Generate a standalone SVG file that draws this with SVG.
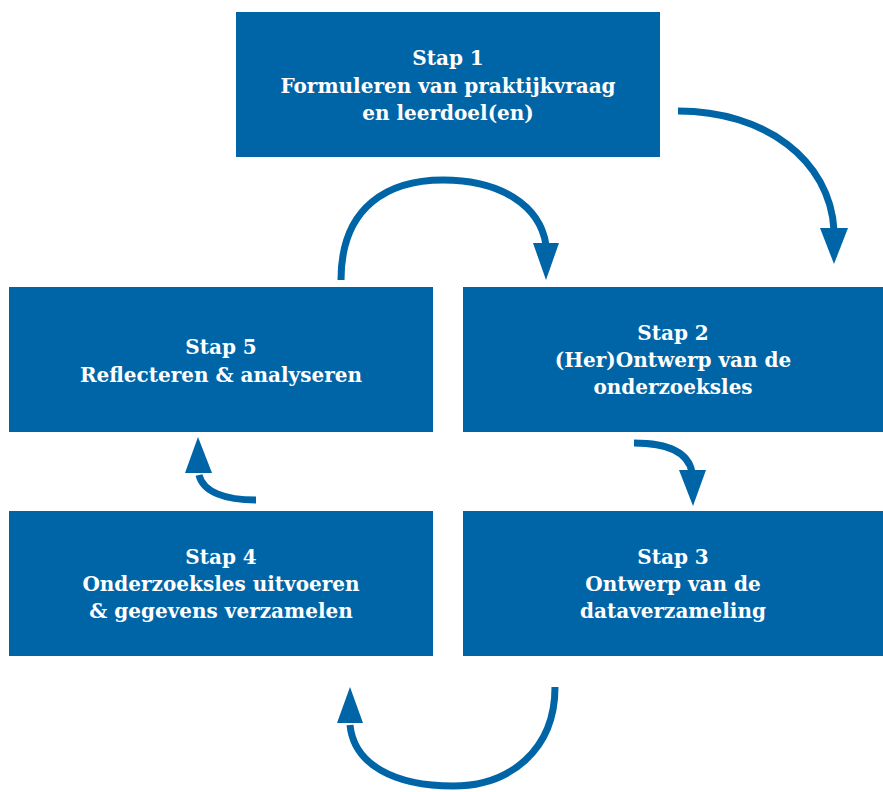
<svg xmlns="http://www.w3.org/2000/svg" width="883" height="792" viewBox="0 0 883 792">
<style>
.box{fill:#0065a6}
.t{font-family:"DejaVu Serif","Liberation Serif",serif;font-weight:bold;font-size:20px;fill:#fff;text-anchor:middle}
.c{fill:none;stroke:#0065a6;stroke-width:7}
.h{fill:#0065a6}
</style>
<rect width="883" height="792" fill="#fff"/>
<g id="stap1"><rect class="box" x="236" y="12" width="424" height="145"/>
<text class="t" x="448" y="65">Stap 1</text>
<text class="t" x="448" y="93">Formuleren van praktijkvraag</text>
<text class="t" x="448" y="120">en leerdoel(en)</text></g>
<g id="stap2"><rect class="box" x="463" y="287" width="420" height="145"/>
<text class="t" x="673" y="340">Stap 2</text>
<text class="t" x="673" y="367">(Her)Ontwerp van de</text>
<text class="t" x="673" y="394">onderzoeksles</text></g>
<g id="stap5"><rect class="box" x="9" y="287" width="424" height="145"/>
<text class="t" x="221" y="354">Stap 5</text>
<text class="t" x="221" y="382">Reflecteren &amp; analyseren</text></g>
<g id="stap4"><rect class="box" x="9" y="511" width="424" height="145"/>
<text class="t" x="221" y="564">Stap 4</text>
<text class="t" x="221" y="591">Onderzoeksles uitvoeren</text>
<text class="t" x="221" y="618">&amp; gegevens verzamelen</text></g>
<g id="stap3"><rect class="box" x="463" y="511" width="420" height="145"/>
<text class="t" x="673" y="564">Stap 3</text>
<text class="t" x="673" y="591">Ontwerp van de</text>
<text class="t" x="673" y="618">dataverzameling</text></g>
<g id="connectors">
<path class="c" d="M678,111 C765,111 830,160 834,230"/>
<path class="h" d="M820,228 L848,228 L834,264 Z"/>
<path class="c" d="M341,280 C341,205 390,180 443,180 C500,180 540,205 546,245"/>
<path class="h" d="M533,243 L559,243 L546,280 Z"/>
<path class="c" d="M634,443 C668,443 688,452 692,472"/>
<path class="h" d="M679,470 L706,470 L693,506 Z"/>
<path class="c" d="M256,500 C225,500 203,492 199,475"/>
<path class="h" d="M185,473 L212,473 L198,437 Z"/>
<path class="c" d="M555,687 C555,750 510,786 453,786 C395,786 354,765 350,725"/>
<path class="h" d="M337,723 L363,723 L350,687 Z"/>
</g>
</svg>
